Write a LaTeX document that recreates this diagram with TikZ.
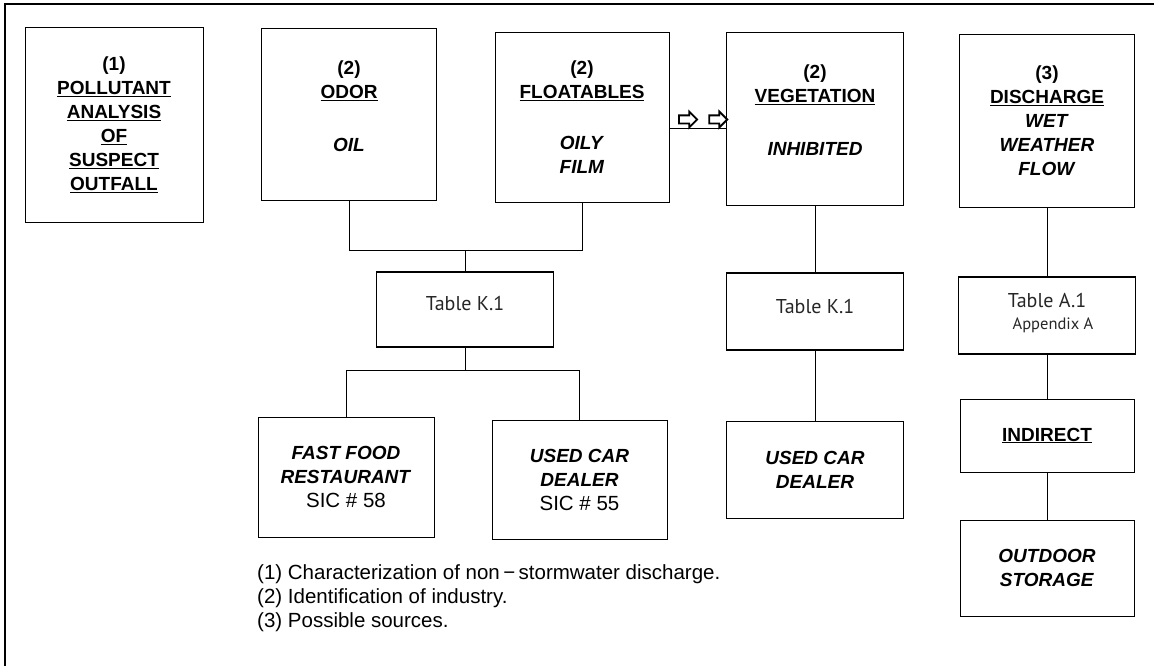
\documentclass[tikz,border=0pt]{standalone}
\usepackage{fontspec}
\setmainfont{Liberation Sans}
\newfontfamily\tabfont{PT Sans}
\usetikzlibrary{shapes.arrows,positioning}
\newcommand{\hdr}[1]{\underline{#1}}

\begin{document}
\begin{tikzpicture}[x=1pt,y=-1pt,
  box/.style={draw,line width=0.8pt,align=center,inner sep=0pt,
              font=\fontsize{19}{24}\selectfont\bfseries},
  tbl/.style={draw,line width=1.7pt,align=center,inner sep=0pt,
              font=\fontsize{20}{22}\selectfont\tabfont,text=black!85},
  link/.style={line width=0.9pt},
  hollow/.style={single arrow,draw,line width=1.8pt,inner sep=3.2pt,
                 minimum height=18pt,single arrow head extend=3.8pt}]
  \useasboundingbox (0,0) rectangle (1154,666);
  \draw[line width=2pt] (1154,4) -- (5,4) -- (5,666);
  % top row
  \node[box,minimum width=178pt,minimum height=195pt] (pol) at (114,124.5)
       {(1)\\\hdr{POLLUTANT}\\\hdr{ANALYSIS}\\\hdr{OF}\\\hdr{SUSPECT}\\\hdr{OUTFALL}};
  \node[box,minimum width=175pt,minimum height=172pt,text depth=16pt] (odor) at (349,114)
       {(2)\\\hdr{ODOR}\\[29pt]\textit{OIL}};
  \node[box,minimum width=174pt,minimum height=170pt] (flo) at (582,117)
       {(2)\\\hdr{FLOATABLES}\\[27pt]\textit{OILY}\\\textit{FILM}};
  \node[box,minimum width=177pt,minimum height=173pt,text depth=16pt] (veg) at (815,118.5)
       {(2)\\\hdr{VEGETATION}\\[29pt]\textit{INHIBITED}};
  \node[box,minimum width=175pt,minimum height=173pt] (dis) at (1047,120.5)
       {(3)\\\hdr{DISCHARGE}\\\textit{WET}\\\textit{WEATHER}\\\textit{FLOW}};
  % tables
  \node[tbl,minimum width=177pt,minimum height=75pt,text depth=12pt] (tabk) at (465,309.5) {Table K.1};
  \node[tbl,minimum width=177pt,minimum height=77pt,text depth=10pt] (tabkv) at (815,311.5) {Table K.1};
  \node[tbl,minimum width=177pt,minimum height=77pt,text depth=8pt] (taba) at (1047,315.5)
       {Table A.1\\{\fontsize{16.5}{22}\selectfont\hspace*{12pt}Appendix A}};
  % sources
  \node[box,minimum width=176pt,minimum height=120pt] (fast) at (346,477)
       {\textit{FAST FOOD}\\\textit{RESTAURANT}\\\fontsize{20.5}{24}\selectfont\mdseries SIC \# 58};
  \node[box,minimum width=175pt,minimum height=119pt] (used) at (579.5,479.5)
       {\textit{USED CAR}\\\textit{DEALER}\\\fontsize{20.5}{24}\selectfont\mdseries SIC \# 55};
  \node[box,minimum width=177pt,minimum height=97pt] (usedv) at (815,469.5)
       {\textit{USED CAR}\\\textit{DEALER}};
  \node[box,minimum width=174pt,minimum height=73pt] (ind) at (1047,435.5) {\hdr{INDIRECT}};
  \node[box,minimum width=174pt,minimum height=96pt] (outd) at (1047,568)
       {\textit{OUTDOOR}\\\textit{STORAGE}};
  \node[anchor=north west,align=left,inner sep=0pt,font=\fontsize{20.5}{24}\selectfont] (legend) at (257,564)
       {(1) Characterization of non\,−\,stormwater discharge.\\
        (2) Identification of industry.\\
        (3) Possible sources.};
  % arrows between floatables and vegetation
  \node[hollow] (ar1) at (686,119.5) {};
  \node[hollow,right=10pt of ar1] (ar2) {};
  % connectors
  \coordinate (j1) at (465,250);
  \coordinate (j2) at (465,370);
  \draw[link] (odor.south) -- (odor.south |- j1) -- (flo.south |- j1) -- (flo.south);
  \draw[link] (j1) -- (tabk.north);
  \draw[link] (tabk.south) -- (j2);
  \draw[link] (fast.north) -- (fast.north |- j2) -- (used.north |- j2) -- (used.north);
  \draw[link] ([yshift=-11pt]flo.east) -- ([yshift=-11pt]flo.east -| veg.west);
  \draw[link] (veg.south) -- (tabkv.north);
  \draw[link] (tabkv.south) -- (usedv.north);
  \draw[link] (dis.south) -- (taba.north);
  \draw[link] (taba.south) -- (ind.north);
  \draw[link] (ind.south) -- (outd.north);
\end{tikzpicture}
\end{document}
